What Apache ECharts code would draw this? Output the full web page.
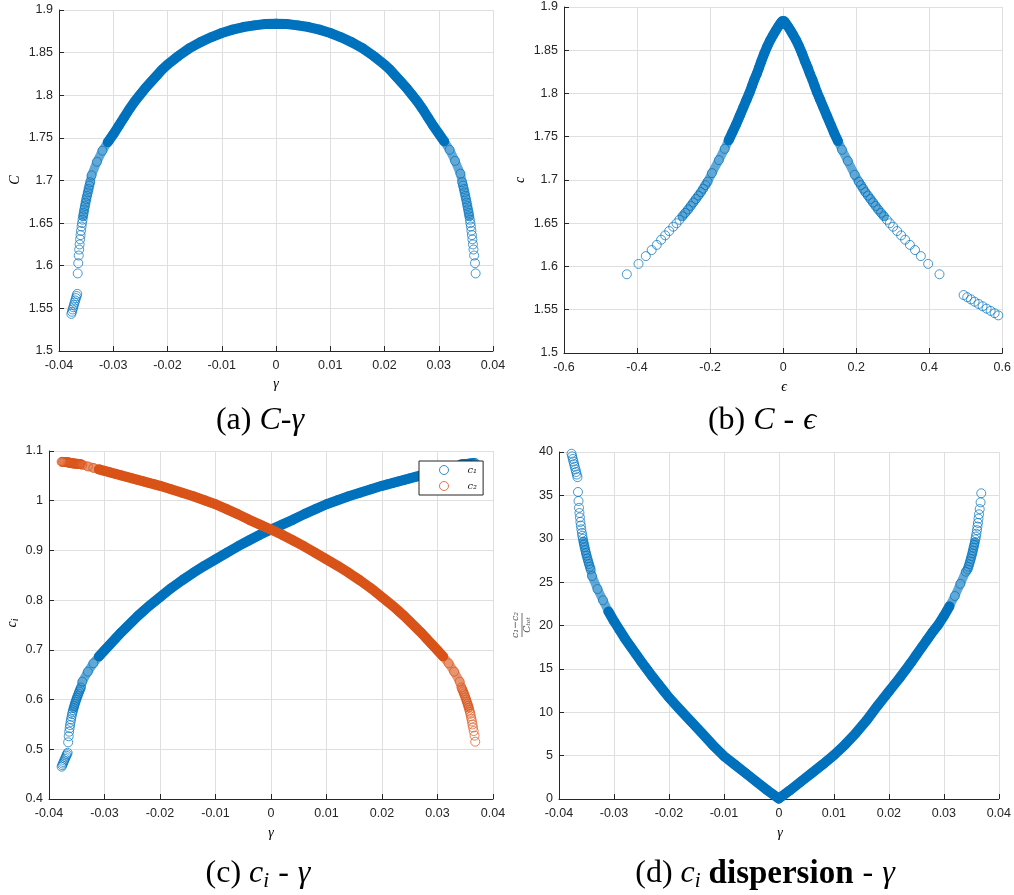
<!DOCTYPE html>
<html>
<head>
<meta charset="utf-8">
<title>c_i dispersion</title>
<script src="https://cdn.jsdelivr.net/npm/echarts@6/dist/echarts.min.js"></script>
<style>
  html, body { margin: 0; padding: 0; background: #fff; }
  #chart { width: 1014px; height: 895px; }
</style>
</head>
<body>
<div id="chart"></div>
<script>
// samples ordered along the curve: left cluster (0-9), left tail (10-31),
// dense band (32-80), right tail (81-102)
const gamma = [
  -0.03772, -0.03761, -0.03749, -0.03737, -0.03725, -0.03713, -0.03700, -0.03688, -0.03676, -0.03664,
  -0.03655, -0.03645, -0.03636, -0.03628, -0.03620, -0.03611, -0.03603, -0.03594, -0.03584, -0.03576, -0.03566,
  -0.03556, -0.03545, -0.03534, -0.03522, -0.03510, -0.03497, -0.03483, -0.03469, -0.03455, -0.03440, -0.03425,
  -0.034, -0.033, -0.032, -0.031, -0.030, -0.029, -0.028, -0.027, -0.026, -0.025, -0.024, -0.023, -0.022, -0.021, -0.020,
  -0.018, -0.016, -0.014, -0.012, -0.010, -0.008, -0.006, -0.004, -0.002, 0,
  0.002, 0.004, 0.006, 0.008, 0.010, 0.012, 0.014, 0.016, 0.018,
  0.020, 0.021, 0.022, 0.023, 0.024, 0.025, 0.026, 0.027, 0.028, 0.029, 0.030, 0.031, 0.032, 0.033, 0.034,
  0.03432, 0.03447, 0.03462, 0.03476, 0.03490, 0.03503, 0.03516, 0.03528, 0.03540, 0.03552, 0.03563,
  0.03573, 0.03583, 0.03592, 0.03602, 0.03611, 0.03620, 0.03630, 0.03640, 0.03652, 0.03668, 0.03680
];
const cTotal = [
  1.5435, 1.5460, 1.5487, 1.5513, 1.5540, 1.5567, 1.5593, 1.5620, 1.5645, 1.5670,
  1.591, 1.603, 1.612, 1.619, 1.625, 1.631, 1.636, 1.641, 1.646, 1.650, 1.654,
  1.658, 1.662, 1.666, 1.670, 1.674, 1.678, 1.682, 1.686, 1.690, 1.694, 1.698,
  1.706, 1.722, 1.735, 1.745, 1.754, 1.764, 1.774, 1.784, 1.793, 1.801, 1.809, 1.816, 1.823, 1.830, 1.836,
  1.846, 1.855, 1.862, 1.868, 1.873, 1.877, 1.880, 1.882, 1.8835, 1.884,
  1.8835, 1.882, 1.880, 1.877, 1.873, 1.868, 1.862, 1.855, 1.846,
  1.836, 1.830, 1.823, 1.816, 1.809, 1.801, 1.793, 1.784, 1.774, 1.764, 1.755, 1.746, 1.736, 1.723, 1.708,
  1.698, 1.694, 1.690, 1.686, 1.682, 1.678, 1.674, 1.670, 1.666, 1.662, 1.658,
  1.654, 1.650, 1.646, 1.641, 1.636, 1.631, 1.625, 1.619, 1.612, 1.603, 1.591
];
const epsilon = [
  0.589, 0.579, 0.568, 0.557, 0.546, 0.535, 0.524, 0.514, 0.504, 0.494,
  0.428, 0.397, 0.377, 0.361, 0.347, 0.334, 0.323, 0.312, 0.301, 0.292, 0.284,
  0.276, 0.268, 0.260, 0.253, 0.246, 0.239, 0.232, 0.225, 0.219, 0.213, 0.207,
  0.196, 0.177, 0.161, 0.150, 0.140, 0.130, 0.120, 0.110, 0.101, 0.093, 0.086, 0.080, 0.073, 0.067, 0.061,
  0.052, 0.043, 0.035, 0.027, 0.020, 0.014, 0.009, 0.006, 0.003, 0,
  -0.003, -0.006, -0.009, -0.014, -0.020, -0.027, -0.035, -0.043, -0.052,
  -0.061, -0.066, -0.072, -0.079, -0.085, -0.092, -0.100, -0.109, -0.119, -0.129, -0.139, -0.149, -0.160, -0.176, -0.195,
  -0.207, -0.213, -0.219, -0.225, -0.232, -0.239, -0.246, -0.253, -0.260, -0.268, -0.276,
  -0.284, -0.292, -0.301, -0.312, -0.323, -0.334, -0.346, -0.360, -0.376, -0.396, -0.428
];
const c1 = [
  0.4650, 0.4680, 0.4712, 0.4743, 0.4775, 0.4807, 0.4838, 0.4870, 0.4900, 0.4930,
  0.5140, 0.5262, 0.5354, 0.5426, 0.5488, 0.5550, 0.5602, 0.5654, 0.5706, 0.5748, 0.5789,
  0.5830, 0.5872, 0.5913, 0.5954, 0.5996, 0.6037, 0.6078, 0.6120, 0.6161, 0.6202, 0.6243,
  0.636, 0.656, 0.673, 0.687, 0.699, 0.711, 0.723, 0.735, 0.746, 0.757, 0.768, 0.778, 0.788, 0.797, 0.806,
  0.824, 0.840, 0.855, 0.869, 0.882, 0.895, 0.908, 0.920, 0.9315, 0.942,
  0.952, 0.962, 0.973, 0.983, 0.993, 1.001, 1.009, 1.016, 1.023,
  1.030, 1.033, 1.036, 1.039, 1.042, 1.045, 1.048, 1.051, 1.054, 1.057, 1.060, 1.063, 1.066, 1.069, 1.072,
  1.0737, 1.0737, 1.0737, 1.0738, 1.0738, 1.0739, 1.0740, 1.0741, 1.0742, 1.0743, 1.0744,
  1.0745, 1.0746, 1.0747, 1.0748, 1.0749, 1.0750, 1.0751, 1.0752, 1.0754, 1.0756, 1.0758
];
const c2 = [
  1.0782, 1.0781, 1.0780, 1.0779, 1.0778, 1.0777, 1.0776, 1.0775, 1.0774, 1.0773,
  1.0770, 1.0768, 1.0766, 1.0764, 1.0762, 1.0760, 1.0758, 1.0756, 1.0754, 1.0752, 1.0751,
  1.0750, 1.0748, 1.0747, 1.0746, 1.0744, 1.0743, 1.0742, 1.0740, 1.0739, 1.0738, 1.0737,
  1.072, 1.069, 1.066, 1.063, 1.060, 1.057, 1.054, 1.051, 1.048, 1.045, 1.042, 1.039, 1.036, 1.033, 1.030,
  1.023, 1.016, 1.009, 1.001, 0.993, 0.983, 0.973, 0.962, 0.952, 0.942,
  0.9315, 0.920, 0.908, 0.895, 0.882, 0.869, 0.855, 0.840, 0.824,
  0.806, 0.797, 0.788, 0.778, 0.768, 0.757, 0.746, 0.735, 0.723, 0.711, 0.699, 0.687, 0.673, 0.656, 0.636,
  0.6243, 0.6203, 0.6163, 0.6122, 0.6082, 0.6041, 0.6000, 0.5959, 0.5918, 0.5877, 0.5836,
  0.5795, 0.5754, 0.5713, 0.5662, 0.5611, 0.5560, 0.5499, 0.5438, 0.5366, 0.5274, 0.5152
];
const disp = [
  39.8, 39.5, 39.2, 38.9, 38.6, 38.3, 38.0, 37.7, 37.4, 37.1,
  35.39, 34.35, 33.57, 32.97, 32.46, 31.94, 31.52, 31.09, 30.67, 30.33, 30.00,
  29.67, 29.34, 29.02, 28.69, 28.36, 28.05, 27.73, 27.40, 27.09, 26.78, 26.47,
  25.7, 24.2, 22.9, 21.6, 20.5, 19.5, 18.5, 17.6, 16.7, 15.8, 14.95, 14.1, 13.3, 12.5, 11.7,
  10.3, 8.95, 7.6, 6.2, 4.95, 3.95, 2.95, 1.95, 0.95, 0.05,
  1.0, 2.0, 3.0, 4.0, 5.05, 6.25, 7.6, 9.1, 10.8,
  12.4, 13.2, 14.0, 14.85, 15.7, 16.6, 17.5, 18.4, 19.3, 20.1, 21.1, 22.2, 23.4, 24.8, 26.2,
  26.47, 26.77, 27.07, 27.38, 27.68, 28.00, 28.32, 28.63, 28.96, 29.28, 29.60,
  29.93, 30.25, 30.58, 30.99, 31.41, 31.82, 32.32, 32.82, 33.42, 34.20, 35.24
];
// index ranges where the markers overlap: partly (hatched look) and fully (solid band)
const OVERLAP = [21, 91];
const SOLID = [35, 77];

const BLUE = '#0072BD', ORANGE = '#D95319';
const BLUE_LIGHT = 'rgba(0,114,189,0.62)', ORANGE_LIGHT = 'rgba(217,83,25,0.62)';
const INK = '#262626', GRID = '#dfdfdf';

const chart = echarts.init(document.getElementById('chart'));

function pts(xs, ys) { return xs.map((x, i) => [x, ys[i]]); }
function fmt(v) { return String(Math.round(v * 10000) / 10000); }

function xAxis(g, min, max, step) {
  return {
    type: 'value', gridIndex: g, min: min, max: max, interval: step,
    axisLine: { onZero: false, lineStyle: { color: INK, width: 1 } },
    axisTick: { inside: true, length: 5, lineStyle: { color: INK } },
    axisLabel: { color: INK, fontFamily: 'Liberation Sans', fontSize: 12.5, margin: 8, formatter: fmt },
    splitLine: { lineStyle: { color: GRID } }
  };
}
function yAxis(g, min, max, step) {
  return {
    type: 'value', gridIndex: g, min: min, max: max, interval: step,
    axisLine: { onZero: false, lineStyle: { color: INK, width: 1 } },
    axisTick: { inside: true, length: 5, lineStyle: { color: INK } },
    axisLabel: { color: INK, fontFamily: 'Liberation Sans', fontSize: 12.5, margin: 6, formatter: fmt },
    splitLine: { lineStyle: { color: GRID } }
  };
}

function band(name, g, data, range, color, width, z) {
  return {
    name: name, type: 'line', xAxisIndex: g, yAxisIndex: g, silent: true,
    data: data.slice(range[0], range[1] + 1), symbol: 'none', z: z,
    lineStyle: { color: color, width: width, cap: 'round', join: 'round' }
  };
}
function rings(name, g, data, color, z) {
  return {
    name: name, type: 'scatter', xAxisIndex: g, yAxisIndex: g, silent: true,
    data: data, symbol: 'circle', symbolSize: 9, z: z,
    itemStyle: { color: 'rgba(0,0,0,0)', borderColor: color, borderWidth: 0.9 }
  };
}
// one scatter curve = hatched band + solid band + hollow rings
function curve(name, g, data, color, light, z) {
  return [
    band(name + ' overlap', g, data, OVERLAP, light, 9, z),
    band(name + ' solid', g, data, SOLID, color, 10, z + 1),
    rings(name, g, data, color, z + 2)
  ];
}

const ptsA = pts(gamma, cTotal);
const ptsB = pts(epsilon, cTotal);
const ptsC1 = pts(gamma, c1);
const ptsC2 = pts(gamma, c2);
const ptsD = pts(gamma, disp);

const capRich = {
  n: { fontFamily: 'Liberation Serif', fontSize: 32, color: '#000', lineHeight: 36, verticalAlign: 'middle' },
  m: { fontFamily: 'Liberation Serif', fontSize: 32, color: '#000', lineHeight: 36, verticalAlign: 'middle', padding: [0, 9, 0, 9] },
  it: { fontFamily: 'Liberation Serif', fontStyle: 'italic', fontSize: 32, color: '#000', lineHeight: 36, verticalAlign: 'middle' },
  sub: { fontFamily: 'Liberation Serif', fontStyle: 'italic', fontSize: 21, color: '#000', lineHeight: 21, verticalAlign: 'bottom' },
  b: { fontFamily: 'Liberation Serif', fontWeight: 'bold', fontSize: 33, color: '#000', lineHeight: 36, verticalAlign: 'middle' }
};
const nameRich = {
  it: { fontFamily: 'Liberation Serif', fontStyle: 'italic', fontSize: 14, color: '#4d4d4d', lineHeight: 16, verticalAlign: 'middle' },
  sub: { fontFamily: 'Liberation Serif', fontStyle: 'italic', fontSize: 10, color: '#4d4d4d', lineHeight: 10, verticalAlign: 'bottom' }
};

function caption(x, y, text) {
  return { type: 'text', x: x, y: y, style: { text: text, rich: capRich, align: 'center', verticalAlign: 'middle' } };
}
function axisName(x, y, text, vertical) {
  return {
    type: 'text', x: x, y: y, rotation: vertical ? Math.PI / 2 : 0,
    style: { text: text, rich: nameRich, align: 'center', verticalAlign: 'middle' }
  };
}

chart.setOption({
  animation: false,
  backgroundColor: '#fff',
  grid: [
    { left: 59, top: 10, width: 434, height: 341 },
    { left: 564, top: 7, width: 440, height: 346 },
    { left: 49, top: 451, width: 444, height: 348 },
    { left: 559, top: 452, width: 442, height: 347 }
  ],
  xAxis: [
    xAxis(0, -0.04, 0.04, 0.01),
    xAxis(1, -0.6, 0.6, 0.2),
    xAxis(2, -0.04, 0.04, 0.01),
    xAxis(3, -0.04, 0.04, 0.01)
  ],
  yAxis: [
    yAxis(0, 1.5, 1.9, 0.05),
    yAxis(1, 1.5, 1.9, 0.05),
    yAxis(2, 0.4, 1.1, 0.1),
    yAxis(3, 0, 40, 5)
  ],
  legend: {
    z: 20,
    data: [
      { name: 'c1', icon: 'circle', itemStyle: { color: 'rgba(0,0,0,0)', borderColor: BLUE, borderWidth: 1 } },
      { name: 'c2', icon: 'circle', itemStyle: { color: 'rgba(0,0,0,0)', borderColor: ORANGE, borderWidth: 1 } }
    ],
    orient: 'vertical', left: 419, top: 461,
    itemWidth: 9, itemHeight: 9, itemGap: 4,
    padding: [3, 6, 3, 20],
    backgroundColor: '#fff', borderColor: INK, borderWidth: 1, borderRadius: 0,
    selectedMode: false,
    formatter: function (n) { return n === 'c1' ? 'c\u2081' : 'c\u2082'; },
    textStyle: { fontFamily: 'DejaVu Serif', fontStyle: 'italic', fontSize: 10, color: INK, lineHeight: 12, padding: [0, 0, 0, 14] }
  },
  series: [].concat(
    curve('C', 0, ptsA, BLUE, BLUE_LIGHT, 2),
    curve('C eps', 1, ptsB, BLUE, BLUE_LIGHT, 2),
    curve('c1', 2, ptsC1, BLUE, BLUE_LIGHT, 2),
    curve('c2', 2, ptsC2, ORANGE, ORANGE_LIGHT, 5),
    curve('disp', 3, ptsD, BLUE, BLUE_LIGHT, 2)
  ),
  graphic: [
    axisName(15, 180, '{it|C}', true),
    axisName(276, 384, '{it|γ}', false),
    axisName(520, 180, '{it|c}', true),
    axisName(784, 387, '{it|ϵ}', false),
    axisName(12, 623, '{it|c}{sub|i}', true),
    axisName(271, 833, '{it|γ}', false),
    axisName(780, 833, '{it|γ}', false),
    {
      type: 'group', x: 522, y: 625, rotation: Math.PI / 2,
      children: [
        { type: 'text', x: 0, y: -1, style: { text: 'c\u2081\u2212c\u2082', fontFamily: 'DejaVu Serif', fontStyle: 'italic', fontSize: 9.5, fill: '#4d4d4d', align: 'center', verticalAlign: 'bottom' } },
        { type: 'line', shape: { x1: -12, y1: 0, x2: 12, y2: 0 }, style: { stroke: '#4d4d4d', lineWidth: 0.8 } },
        { type: 'text', x: 0, y: 1, style: { text: 'C\u209c\u2092\u209c', fontFamily: 'DejaVu Serif', fontStyle: 'italic', fontSize: 9.5, fill: '#4d4d4d', align: 'center', verticalAlign: 'top' } }
      ]
    },
    caption(260, 421, '{n|(a) }{it|C}{n|-}{it|γ}'),
    caption(762, 421, '{n|(b) }{it|C}{m|-}{it|ϵ}'),
    caption(258, 874, '{n|(c) }{it|c}{sub|i}{m|-}{it|γ}'),
    caption(765, 874, '{n|(d) }{it|c}{sub|i}{n| }{b|dispersion}{m|-}{it|γ}')
  ]
});
</script>
</body>
</html>
